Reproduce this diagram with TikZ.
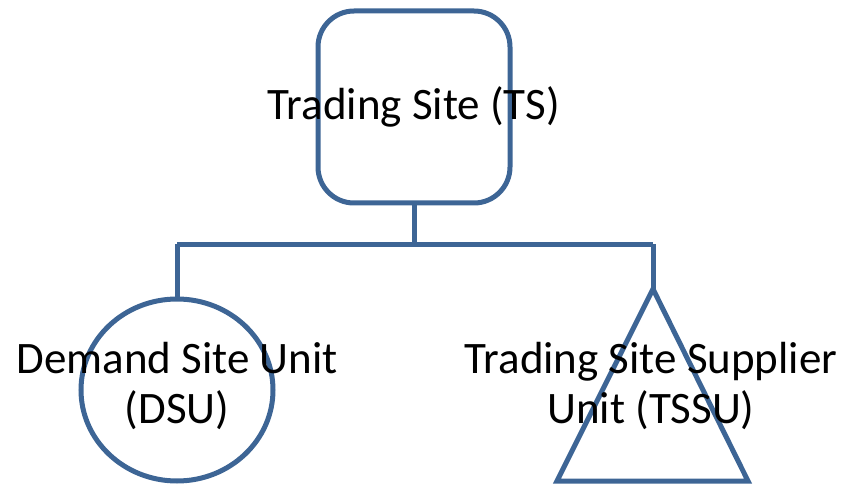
\documentclass[tikz,border=0pt]{standalone}
\usepackage{fontspec}
\setmainfont{Carlito}
\definecolor{shapeblue}{HTML}{3D6595}
\begin{document}
\begin{tikzpicture}[x=1pt,y=-1pt,
  outline/.style={draw=shapeblue,line width=5pt},
  lbl/.style={font=\fontsize{45}{50}\selectfont,align=center,text=black,inner sep=0pt}]
\useasboundingbox (0,0) rectangle (844,484);
\draw[outline,rounded corners=36pt] (318,11) rectangle (510,203);
\coordinate (tsb) at (414,203);
\coordinate (bar) at (414,244);
\coordinate (barl) at (177,244);
\coordinate (barr) at (653,244);
\draw[outline] (177,390) ellipse [x radius=96, y radius=91];
\coordinate (dsut) at (177,299);
\draw[outline,line join=miter] (653,289) -- (748,481) -- (557,481) -- cycle;
\coordinate (tsut) at (653,289);
\draw[outline] (tsb) -- (bar);
\draw[outline] (barl) -- (barr);
\draw[outline] (barl) -- (dsut);
\draw[outline] (barr) -- (tsut);
\node[lbl] (ts) at (414,107) {Trading Site (TS)};
\node[lbl] (dsu) at (177,386) {Demand Site Unit\\(DSU)};
\node[lbl] (tssu) at (651,386) {Trading Site Supplier\\Unit (TSSU)};
\end{tikzpicture}
\end{document}
